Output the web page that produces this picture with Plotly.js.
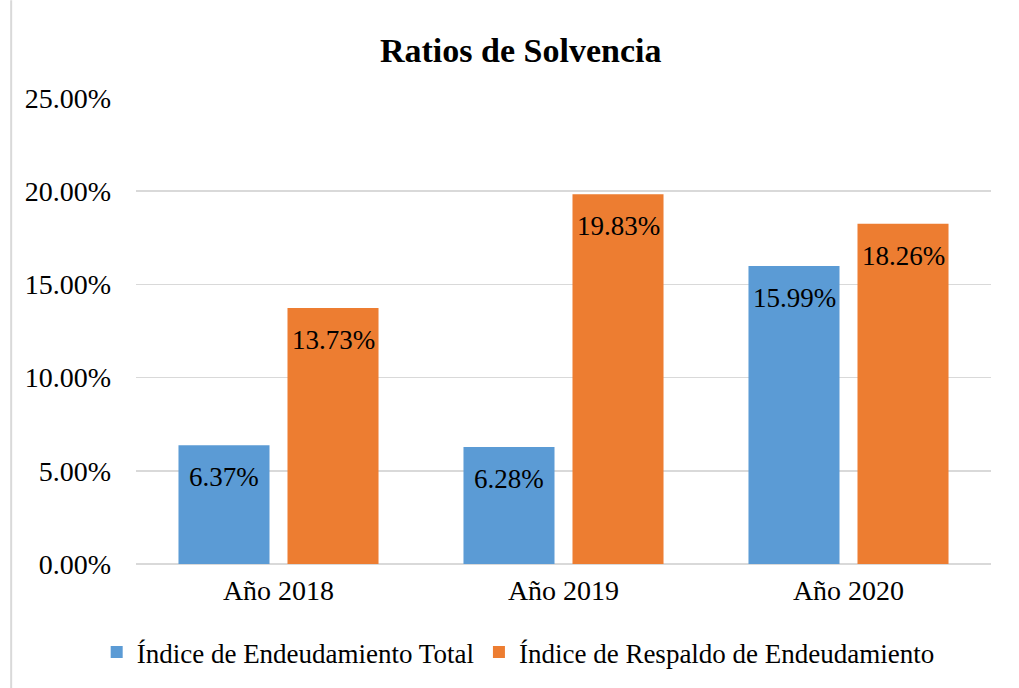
<!DOCTYPE html>
<html>
<head>
<meta charset="utf-8">
<script src="https://cdn.plot.ly/plotly-3.0.1.min.js"></script>
<style>html,body{margin:0;padding:0;background:#fff;}#chart{width:1019px;height:688px;}</style>
</head>
<body>
<div id="chart"></div>
<script>
const categories = ["Año 2018", "Año 2019", "Año 2020"];
const seriesNames = ["Índice de Endeudamiento Total", "Índice de Respaldo de Endeudamiento"];
const endeudamiento = [6.37, 6.28, 15.99];
const respaldo = [13.73, 19.83, 18.26];
const yTickVals = [0, 5, 10, 15, 20, 25];
const yTickText = ["0.00%", "5.00%", "10.00%", "15.00%", "20.00%", "25.00%"];

const FONT = "'Liberation Serif', 'Times New Roman', serif";
const colors = ["#5b9bd5", "#ed7d31"];
const series = [endeudamiento, respaldo];

const traces = series.map((vals, i) => ({
  type: "bar",
  name: seriesNames[i],
  x: categories,
  y: vals,
  marker: {color: colors[i], line: {width: 0}},
  hoverinfo: "skip"
}));

const annotations = [];
series.forEach((vals, i) => {
  vals.forEach((v, j) => {
    annotations.push({
      x: categories[j], y: v, xref: "x", yref: "y",
      text: v.toFixed(2) + "%",
      showarrow: false,
      xshift: i === 0 ? -54.5 : 54.5,
      yshift: -32,
      yanchor: "middle",
      font: {family: FONT, size: 27, color: "#000"}
    });
  });
});

const layout = {
  width: 1019, height: 688,
  paper_bgcolor: "#fff", plot_bgcolor: "#fff",
  font: {family: FONT, color: "#000"},
  margin: {l: 136, r: 28, t: 98, b: 123},
  title: {text: "<b>Ratios de Solvencia</b>", x: 0.511, xanchor: "center", y: 0.927, yanchor: "middle",
          font: {family: FONT, size: 34, color: "#000"}},
  barmode: "group",
  bargap: 0.235,
  bargroupgap: 0.165,
  showlegend: true,
  legend: {orientation: "h", x: 0.447, xanchor: "center", y: -0.135, yanchor: "top",
           font: {family: FONT, size: 27, color: "#000"}, itemclick: false, traceorder: "normal"},
  xaxis: {type: "category", showgrid: false, showline: false, zeroline: false, ticks: "",
          tickfont: {family: FONT, size: 28, color: "#000"}, ticklabelstandoff: 7},
  yaxis: {range: [0, 25], tickvals: yTickVals, ticktext: yTickText,
          showgrid: true, gridcolor: "#d9d9d9", gridwidth: 1.5,
          zeroline: true, zerolinecolor: "#d9d9d9", zerolinewidth: 1.5,
          showline: false, ticks: "", ticklabelstandoff: 24,
          tickfont: {family: FONT, size: 28, color: "#000"}},
  annotations: annotations,
  shapes: [{type: "line", xref: "paper", yref: "paper", x0: -0.146, x1: -0.146, y0: -0.27, y1: 1.21,
            line: {color: "#d9d9d9", width: 2}}]
};

Plotly.newPlot("chart", traces, layout, {displayModeBar: false, staticPlot: true});
</script>
</body>
</html>
